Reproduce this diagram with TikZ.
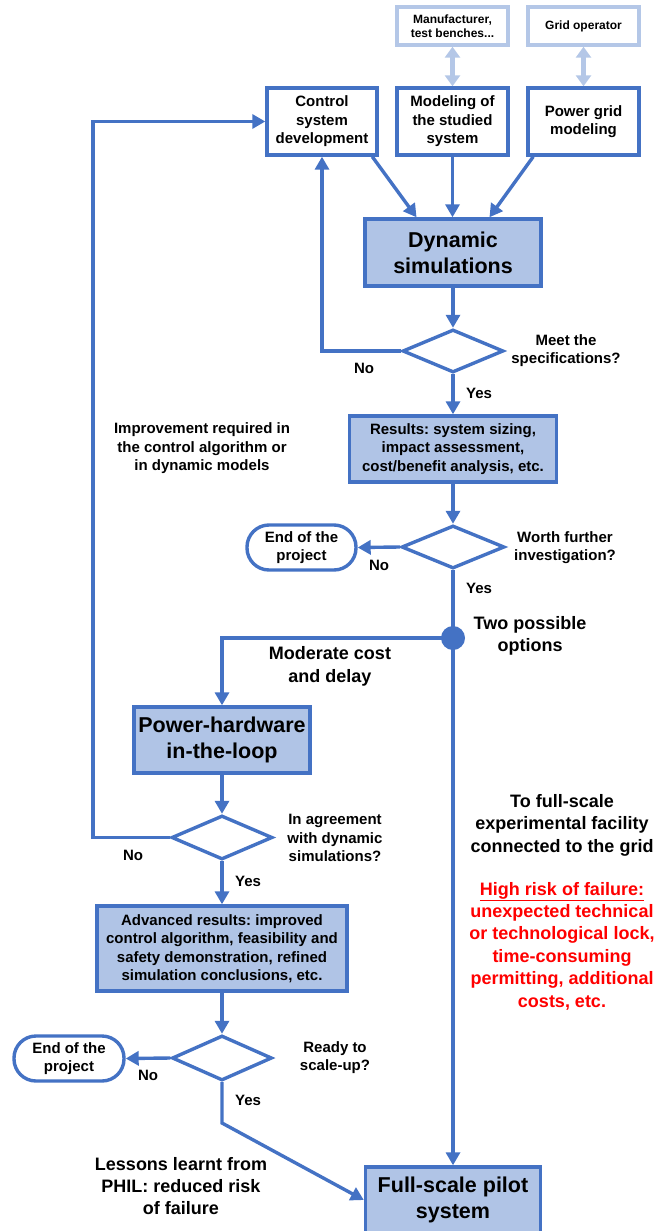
\documentclass[tikz,border=0pt]{standalone}
\usepackage{fontspec}
\setmainfont{Liberation Sans}
\usetikzlibrary{arrows.meta,shapes.geometric,calc}
\definecolor{mblue}{HTML}{4472C4}
\definecolor{mfill}{HTML}{B0C4E6}
\definecolor{lblue}{HTML}{B4C7E7}
\definecolor{mred}{HTML}{FF0000}
\begin{document}
\frenchspacing
\begin{tikzpicture}[x=1pt,y=-1pt,
  every node/.style={font=\bfseries, align=center, inner sep=0pt},
  conn/.style={draw=mblue, line width=3.4pt, -{Triangle[length=13pt,width=14pt]}},
  plain/.style={draw=mblue, line width=3.4pt},
  wbox/.style={draw=mblue, line width=3.4pt, fill=white, minimum height=67pt, font=\fontsize{15}{18.5}\selectfont\bfseries},
  fbox/.style={draw=mblue, line width=3.4pt, fill=mfill},
  lbox/.style={draw=lblue, line width=3.4pt, fill=white, minimum width=111pt, minimum height=38pt, font=\fontsize{12}{14}\selectfont\bfseries},
  dec/.style={diamond, draw=mblue, line width=3.4pt, fill=white, minimum width=101pt, minimum height=43pt},
  endbox/.style={draw=mblue, line width=3.4pt, rounded corners=22pt, minimum width=109pt, minimum height=45pt, font=\fontsize{15}{18.5}\selectfont\bfseries},
  lbl/.style={font=\fontsize{15}{18.5}\selectfont\bfseries},
  big/.style={font=\fontsize{18}{22.4}\selectfont\bfseries},
  huge/.style={font=\fontsize{21.5}{26}\selectfont\bfseries},
  dbl/.style={draw=lblue, line width=5pt, {Triangle[length=11pt,width=15pt]}-{Triangle[length=11pt,width=15pt]}},
]
\useasboundingbox (0,0) rectangle (670,1231);

% boxes
\node[lbox] (manu) at (452.5,26) {Manufacturer,\\test benches...};
\node[lbox] (gop) at (583.5,26) {Grid operator};
\node[wbox, minimum width=110pt] (ctrl) at (322,121.5) {Control\\system\\development};
\node[wbox, minimum width=111pt] (model) at (452.5,121.5) {Modeling of\\the studied\\system};
\node[wbox, minimum width=111pt] (grid) at (583.5,121.5) {Power grid\\modeling};
\node[fbox, huge, minimum width=176pt, minimum height=67pt] (dyn) at (453,252.5) {Dynamic\\simulations};
\node[dec] (d1) at (453,351) {};
\node[fbox, lbl, minimum width=207pt, minimum height=66pt] (res) at (453,449) {Results: system sizing,\\impact assessment,\\cost/benefit analysis, etc.};
\node[dec, minimum width=103pt] (d2) at (453,547) {};
\node[endbox] (end1) at (301.5,547.5) {End of the\\project};
\node[circle, fill=mblue, minimum size=24pt] (dot) at (453,638) {};
\node[fbox, huge, minimum width=176pt, minimum height=66pt] (phil) at (222,740) {Power-hardware\\in-the-loop};
\node[dec, minimum height=44pt] (d3) at (222,837.5) {};
\node[fbox, lbl, minimum width=250pt, minimum height=85pt] (adv) at (222,948.5) {Advanced results: improved\\control algorithm, feasibility and\\safety demonstration, refined\\simulation conclusions, etc.};
\node[dec, minimum width=100pt, minimum height=45pt] (d4) at (222,1058) {};
\node[endbox, minimum width=110pt] (end2) at (69,1058.5) {End of the\\project};
\node[fbox, huge, minimum width=175pt, minimum height=66pt] (full) at (453,1200) {Full-scale pilot\\system};

% light double arrows
\draw[dbl] (manu) -- (model);
\draw[dbl] (gop) -- (grid);

% connectors
\draw[conn] (ctrl.-35) -- (dyn.136);
\draw[conn] (model.south) -- (model.south |- dyn.north);
\draw[conn] (grid.215) -- (dyn.44);
\draw[conn] (dyn) -- (d1);
\draw[conn] (d1.west) -| (ctrl.south);
\draw[conn] (d1) -- (res);
\draw[conn] (res) -- (d2);
\draw[conn] (d2.west) -- (end1.east);
\draw[plain] (d2.south) -- (dot.center);
\draw[conn] (dot.center) -| (phil.north);
\draw[conn] (dot.center) -- (full.north);
\draw[conn] (phil) -- (d3);
\coordinate (fb) at (93,837.5);
\draw[conn] (d3.west) -- (fb) |- (ctrl.west);
\draw[conn] (d3) -- (adv);
\draw[conn] (adv) -- (d4);
\draw[conn] (d4.west) -- (end2.east);
\coordinate (bend) at (222,1123);
\draw[conn] (d4.south) -- (bend) -- (full.west);

% labels
\node[lbl] (no1) at (364,368) {No};
\node[lbl] (yes1) at (479,393) {Yes};
\node[lbl] (q1) at (566,350.5) {Meet the\\specifications?};
\node[lbl] (no2) at (379,565) {No};
\node[lbl] (yes2) at (479,588) {Yes};
\node[lbl] (q2) at (565,547.5) {Worth further\\investigation?};
\node[big] (two) at (530,636) {Two possible\\options};
\node[big] (mod) at (330,666.5) {Moderate cost\\and delay};
\node[lbl] (impr) at (202,448.5) {Improvement required in\\the control algorithm or\\in dynamic models};
\node[lbl] (no3) at (133,855) {No};
\node[lbl] (yes3) at (248,881) {Yes};
\node[lbl] (q3) at (335,838) {In agreement\\with dynamic\\simulations?};
\node[big] (tofull) at (562,825) {To full-scale\\experimental facility\\connected to the grid};
\node[big, text=mred] (risk) at (562,946) {\underline{High risk of failure:}\\unexpected technical\\or technological lock,\\time-consuming\\permitting, additional\\costs, etc.};
\node[lbl] (no4) at (148,1075) {No};
\node[lbl] (yes4) at (248,1100) {Yes};
\node[lbl] (q4) at (335,1057.5) {Ready to\\scale-up?};
\node[big] (lessons) at (181,1186) {Lessons learnt from\\PHIL: reduced risk\\of failure};
\end{tikzpicture}
\end{document}
